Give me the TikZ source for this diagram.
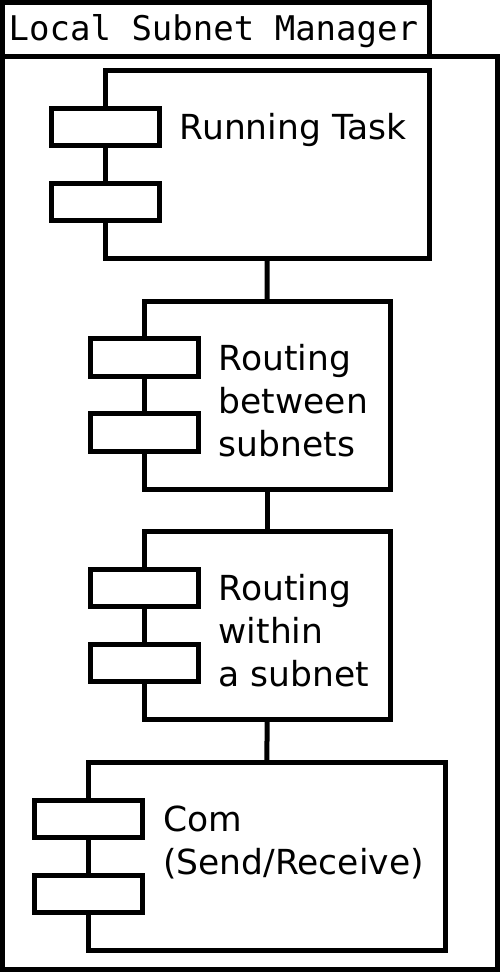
\documentclass[tikz,border=0pt]{standalone}
\usepackage{fontspec}
\setmainfont{DejaVu Sans}
\setmonofont{DejaVu Sans Mono}
\usetikzlibrary{calc}
\begin{document}
\begin{tikzpicture}[x=1pt,y=-1pt,
  lw/.style={line width=5pt},
  frm/.style={draw,lw,rectangle,inner sep=0pt,outer sep=0pt,fill=white},
  comp/.style={frm,minimum height=188pt},
  port/.style={frm,minimum width=108pt,minimum height=37.5pt},
  lbl/.style={anchor=base west,inner sep=0pt,font=\fontsize{34.5}{43}\selectfont},
  ttl/.style={anchor=base west,inner sep=0pt,font=\ttfamily\fontsize{34}{40}\selectfont}]
\useasboundingbox (0,0) rectangle (500,975);
\fill[white] (0,0) rectangle (500,975);
% package frame
\node[frm,minimum width=426.5pt,minimum height=53.5pt] (tab) at (215.75,29.25) {};
\node[frm,minimum width=495pt,minimum height=913.5pt] (pkg) at (250,512.75) {};
\node[ttl] (title) at (8.5,40) {Local Subnet Manager};
% components
\node[comp,minimum width=324pt] (b1) at (267,164.5) {};
\node[comp,minimum width=245.5pt] (b2) at (267.25,395) {};
\node[comp,minimum width=245.5pt] (b3) at (267.25,625.5) {};
\node[comp,minimum width=357.5pt] (b4) at (266.75,856.5) {};
% connectors
\draw[lw] (b1.south) -- (b2.north);
\draw[lw] (b2.south) -- (b3.north);
\draw[lw] (b3.south) -- (b4.north);
% ports
\foreach \b in {b1,b2,b3,b4}{
  \node[port] (\b p1) at ($(\b.north west)+(0,56.5)$) {};
  \node[port] (\b p2) at ($(\b.north west)+(0,131.5)$) {};
}
% labels
\node[lbl] (t1) at ($(b1.north west)+(74.5,69)$) {Running Task};
\node[lbl] (t2) at ($(b2.north west)+(74,69)$) {\begin{tabular}[t]{@{}l@{}}Routing\\between\\subnets\end{tabular}};
\node[lbl] (t3) at ($(b3.north west)+(74,69)$) {\begin{tabular}[t]{@{}l@{}}Routing\\within\\a subnet\end{tabular}};
\node[lbl] (t4) at ($(b4.north west)+(75,69)$) {\begin{tabular}[t]{@{}l@{}}Com\\(Send/Receive)\end{tabular}};
\end{tikzpicture}
\end{document}
